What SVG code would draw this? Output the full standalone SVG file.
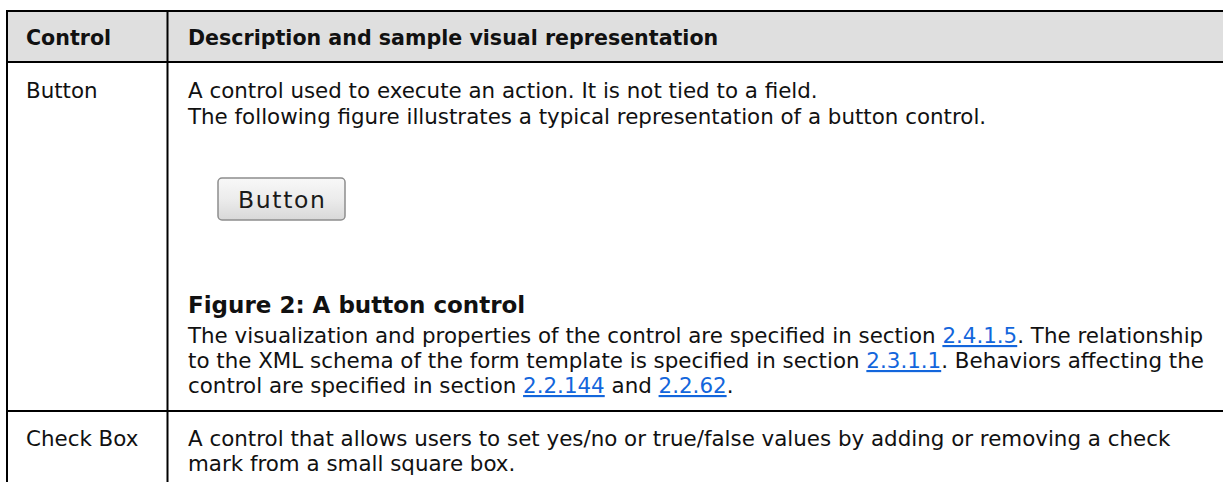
<svg xmlns="http://www.w3.org/2000/svg" width="1223" height="482" viewBox="0 0 1223 482">
  <style>
    .t { font-family: "DejaVu Sans", Verdana, sans-serif; font-size: 21.4px; fill: #111; }
    .h { font-family: "DejaVu Sans", Verdana, sans-serif; font-size: 20.6px; font-weight: bold; fill: #111; }
    .cap { font-family: "DejaVu Sans", Verdana, sans-serif; font-size: 23px; font-weight: bold; fill: #111; }
    .lnk { fill: #1366dc; text-decoration: underline; }
    .grid { stroke: #000; stroke-width: 2; fill: none; }
  </style>
  <defs>
    <linearGradient id="btnGrad" x1="0" y1="0" x2="0" y2="1">
      <stop offset="0" stop-color="#f8f8f8"/>
      <stop offset="0.5" stop-color="#ececec"/>
      <stop offset="1" stop-color="#d8d8d8"/>
    </linearGradient>
  </defs>
  <rect width="1223" height="482" fill="#fff"/>
  <g id="header">
    <rect x="7" y="11" width="1216" height="51" fill="#dfdfdf"/>
    <text class="h" x="26" y="45">Control</text>
    <text class="h" x="188" y="45">Description and sample visual representation</text>
  </g>
  <g id="grid">
    <line class="grid" x1="6" y1="11" x2="1223" y2="11"/>
    <line class="grid" x1="6" y1="62" x2="1223" y2="62"/>
    <line class="grid" x1="6" y1="411" x2="1223" y2="411"/>
    <line class="grid" x1="7" y1="10" x2="7" y2="482"/>
    <line class="grid" x1="167.5" y1="10" x2="167.5" y2="482"/>
  </g>
  <g id="row-button">
    <text class="t" x="26" y="98">Button</text>
    <text class="t" x="188" y="98">A control used to execute an action. It is not tied to a field.</text>
    <text class="t" x="188" y="124">The following figure illustrates a typical representation of a button control.</text>
    <g id="button-sample">
      <rect x="218" y="178" width="127" height="42" rx="4" fill="url(#btnGrad)" stroke="#8d8d8d" stroke-width="1.5"/>
      <text x="238" y="208" font-family="DejaVu Sans, Verdana, sans-serif" font-size="23.5" fill="#1a1a1a" textLength="87" lengthAdjust="spacing">Button</text>
    </g>
    <text class="cap" x="188" y="313">Figure 2: A button control</text>
    <text class="t" x="188" y="343">The visualization and properties of the control are specified in section <tspan class="lnk">2.4.1.5</tspan>. The relationship</text>
    <text class="t" x="188" y="368">to the XML schema of the form template is specified in section <tspan class="lnk">2.3.1.1</tspan>. Behaviors affecting the</text>
    <text class="t" x="188" y="393">control are specified in section <tspan class="lnk">2.2.144</tspan> and <tspan class="lnk">2.2.62</tspan>.</text>
  </g>
  <g id="row-checkbox">
    <text class="t" x="26" y="446">Check Box</text>
    <text class="t" x="188" y="446">A control that allows users to set yes/no or true/false values by adding or removing a check</text>
    <text class="t" x="188" y="471">mark from a small square box.</text>
  </g>
</svg>
